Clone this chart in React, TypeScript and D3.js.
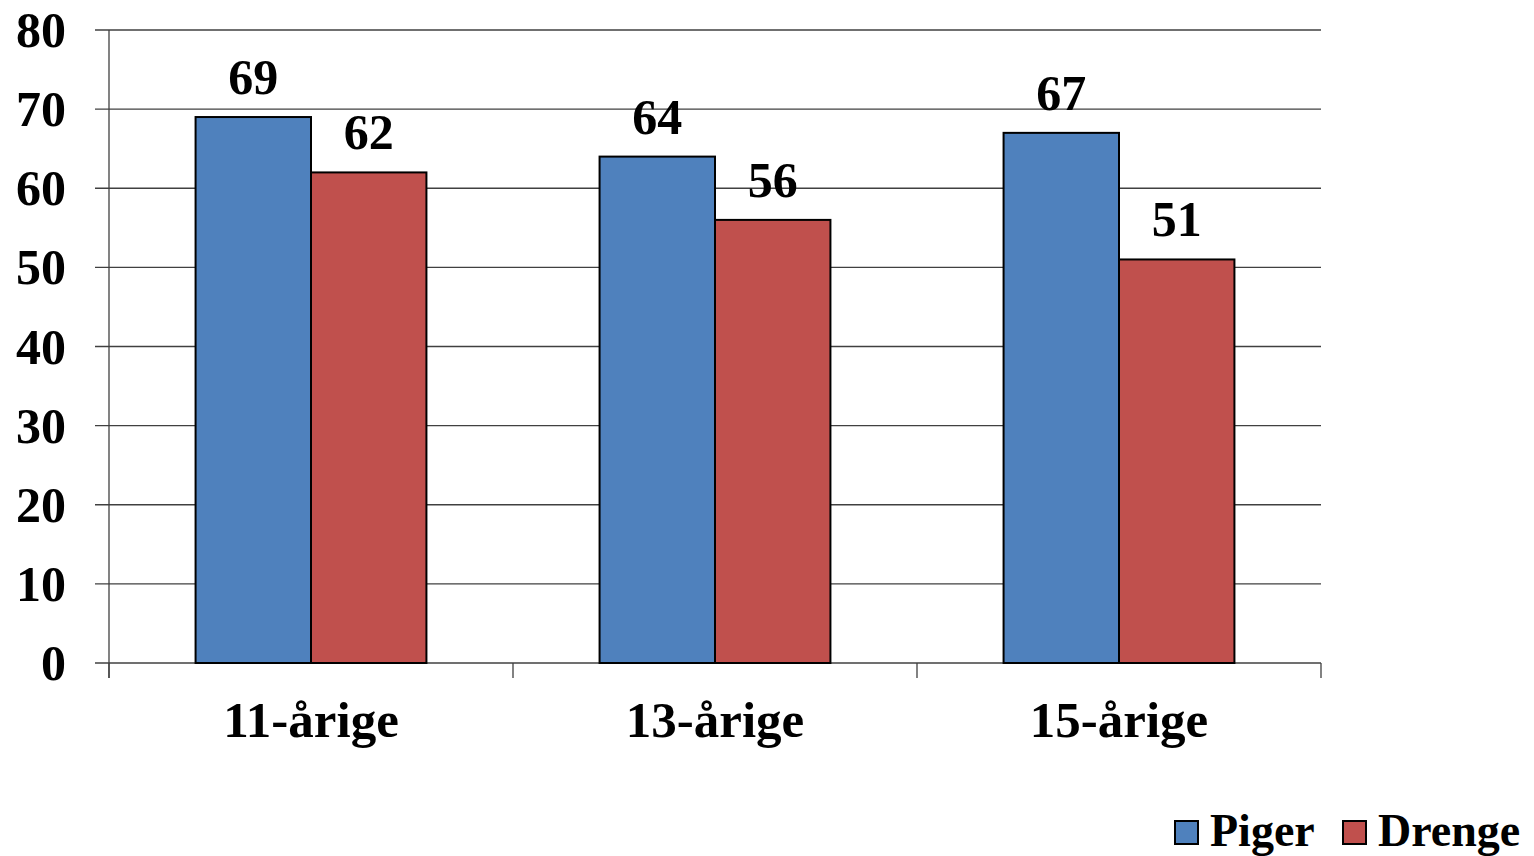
import React from "react";
import * as d3 from "d3";

const categories = ["11-årige", "13-årige", "15-årige"];
const seriesNames = ["Piger", "Drenge"];
const piger = [69, 64, 67];
const drenge = [62, 56, 51];
const yTicks = [0, 10, 20, 30, 40, 50, 60, 70, 80];
const colors = ["#4F81BD", "#C0504D"];

const W = 1534;
const H = 856;
const left = 109;
const right = 1321;
const top = 30;
const bottom = 663;
const FONT = "'Liberation Serif', 'Times New Roman', serif";

export default function App() {
  const values = [piger, drenge];
  const x0 = d3.scaleBand<string>().domain(categories).range([left, right]).padding(0);
  const x1 = d3
    .scaleBand<string>()
    .domain(seriesNames)
    .range([0, x0.bandwidth()])
    .paddingInner(0)
    .paddingOuter(0.75);
  const y = d3.scaleLinear().domain([0, 80]).range([bottom, top]);

  const xTickPositions = [...categories.map((c) => x0(c)!), right];

  return (
    <svg
      width={W}
      height={H}
      style={{ position: "absolute", left: 0, top: 0, background: "#fff" }}
      fontFamily={FONT}
      fontWeight="bold"
    >
      <rect x={0} y={0} width={W} height={H} fill="#fff" />
      {/* gridlines and y ticks */}
      {yTicks.map((t) => (
        <g key={t}>
          <line x1={95} x2={right} y1={y(t)} y2={y(t)} stroke="#404040" strokeWidth={1.3} />
          <text x={66} y={y(t)} dy="0.34em" textAnchor="end" fontSize={50} fill="#000">
            {t}
          </text>
        </g>
      ))}
      {/* y axis */}
      <line x1={left} x2={left} y1={top} y2={bottom + 15} stroke="#404040" strokeWidth={1.3} />
      {/* x ticks */}
      {xTickPositions.map((xp, i) => (
        <line key={i} x1={xp} x2={xp} y1={bottom} y2={bottom + 15} stroke="#404040" strokeWidth={1.3} />
      ))}
      {/* bars */}
      {categories.map((c, ci) => (
        <g key={c} transform={`translate(${x0(c)},0)`}>
          {seriesNames.map((s, si) => {
            const v = values[si][ci];
            const bx = x1(s)!;
            const bw = x1.bandwidth();
            return (
              <g key={s}>
                <rect
                  x={bx}
                  y={y(v)}
                  width={bw}
                  height={bottom - y(v)}
                  fill={colors[si]}
                  stroke="#000"
                  strokeWidth={2}
                />
                <text x={bx + bw / 2} y={y(v) - 23} textAnchor="middle" fontSize={50} fill="#000">
                  {v}
                </text>
              </g>
            );
          })}
        </g>
      ))}
      {/* category labels */}
      {categories.map((c) => (
        <text
          key={c}
          x={x0(c)! + x0.bandwidth() / 2}
          y={737}
          textAnchor="middle"
          fontSize={51}
          fill="#000"
        >
          {c}
        </text>
      ))}
      {/* legend */}
      {seriesNames.map((s, i) => {
        const lx = i === 0 ? 1175 : 1343;
        return (
          <g key={s}>
            <rect x={lx} y={821} width={23} height={23} fill={colors[i]} stroke="#000" strokeWidth={2} />
            <text x={lx + 35} y={846} fontSize={46} fill="#000">
              {s}
            </text>
          </g>
        );
      })}
    </svg>
  );
}
